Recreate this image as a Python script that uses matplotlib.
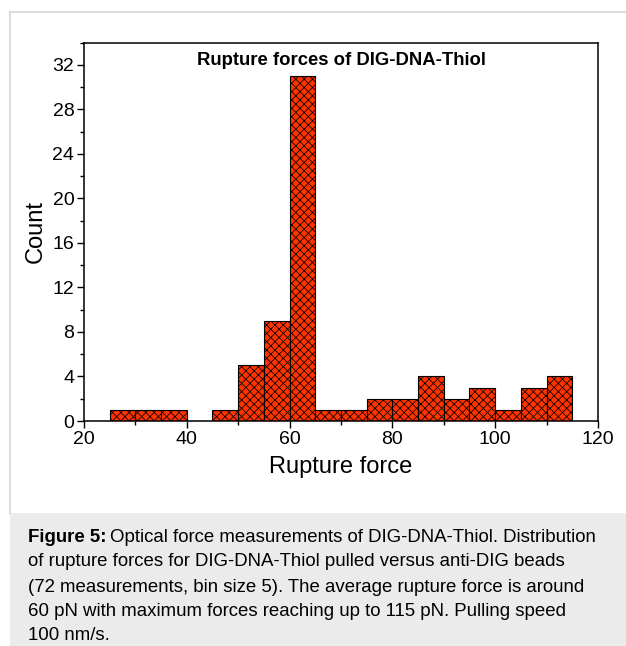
import matplotlib
matplotlib.use("Agg")
import matplotlib.pyplot as plt
from matplotlib.patches import Rectangle
from matplotlib.lines import Line2D
from matplotlib.ticker import MultipleLocator

plt.rcParams['font.family'] = ['Liberation Sans', 'DejaVu Sans']
plt.rcParams['hatch.linewidth'] = 0.55

# histogram data (bin size 5)
bin_left = [25, 30, 35, 40, 45, 50, 55, 60, 65, 70, 75, 80, 85, 90, 95, 100, 105, 110]
counts = [1, 1, 1, 0, 1, 5, 9, 31, 1, 1, 2, 2, 4, 2, 3, 1, 3, 4]

caption_lines = [
    "Optical force measurements of DIG-DNA-Thiol. Distribution",
    "of rupture forces for DIG-DNA-Thiol pulled versus anti-DIG beads",
    "(72 measurements, bin size 5). The average rupture force is around",
    "60 pN with maximum forces reaching up to 115 pN. Pulling speed",
    "100 nm/s.",
]

W, H = 626, 646
fig = plt.figure(figsize=(W / 100, H / 100), dpi=100)

# panel background and caption box
fig.add_artist(Rectangle((10 / W, 0), 1, 1 - 513 / H, transform=fig.transFigure,
                         facecolor='#ebebeb', edgecolor='none', zorder=0))
fig.add_artist(Line2D([10 / W, 10 / W], [1 - 513 / H, 1 - 12 / H], transform=fig.transFigure,
                      color='#dddddd', lw=1.5, zorder=0))
fig.add_artist(Line2D([10 / W, 1], [1 - 12 / H, 1 - 12 / H], transform=fig.transFigure,
                      color='#dddddd', lw=1.5, zorder=0))

ax = fig.add_axes([84 / W, 1 - 421 / H, 514 / W, 378.5 / H])
ax.bar(bin_left, counts, width=5, align='edge', color='#ff3300', edgecolor='black',
       hatch='xxxx', linewidth=0.8)

ax.set_xlim(20, 120)
ax.set_ylim(0, 34)
ax.xaxis.set_major_locator(MultipleLocator(20))
ax.xaxis.set_minor_locator(MultipleLocator(10))
ax.yaxis.set_major_locator(MultipleLocator(4))
ax.yaxis.set_minor_locator(MultipleLocator(2))
ax.tick_params(which='major', direction='out', length=5, width=1, labelsize=14, pad=2)
ax.tick_params(which='minor', direction='out', length=3, width=1)
for s in ax.spines.values():
    s.set_linewidth(1.1)

ax.set_xlabel("Rupture force", fontsize=17, labelpad=6)
ax.set_ylabel("Count", fontsize=17, labelpad=4)
ax.text(0.5, 0.975, "Rupture forces of DIG-DNA-Thiol", transform=ax.transAxes,
        ha='center', va='top', fontsize=13.3, fontweight='bold')

# caption
fig.canvas.draw()
renderer = fig.canvas.get_renderer()
ys = [537, 562, 587, 611, 635]
x0 = 28 / W
fs = 13.4
bold = fig.text(x0, 1 - ys[0] / H, "Figure 5:", fontsize=fs, fontweight='bold',
                va='center', ha='left')
bb = bold.get_window_extent(renderer)
fig.text((bb.x1 + 4) / W, 1 - ys[0] / H, caption_lines[0], fontsize=fs, va='center', ha='left')
for line, y in zip(caption_lines[1:], ys[1:]):
    fig.text(x0, 1 - y / H, line, fontsize=fs, va='center', ha='left')

fig.savefig("out.png", dpi=100)
